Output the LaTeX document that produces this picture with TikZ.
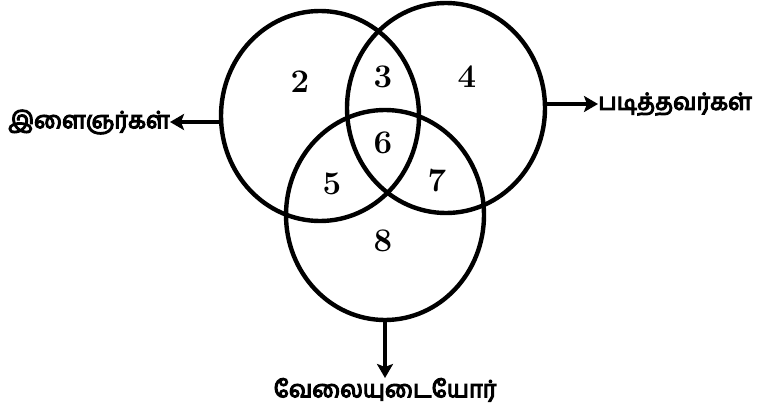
\documentclass[tikz,border=0pt]{standalone}
\usepackage{fontspec}
\newfontfamily\tamil[Script=Tamil,FakeBold=5]{Hind Madurai}
\usepackage{tikz}
\usetikzlibrary{arrows.meta,positioning,shapes.geometric}

\begin{document}
\begin{tikzpicture}[
  x=1pt, y=-1pt,
  every node/.style={inner sep=0pt},
  setring/.style ={ellipse, draw=black, line width=4.4pt, minimum width=198, minimum height=210},
  region/.style  ={font=\fontsize{33}{36}\selectfont\bfseries},
  setname/.style ={font=\tamil\fontsize{23.5}{28}\selectfont},
  ar/.style      ={-{Stealth[length=14pt,width=16pt,inset=3pt]}, line width=3.4pt}]

\useasboundingbox (0,0) rectangle (763,415);

% ----------------------------- the three sets ---------------------------
\node[setring] (young)    at (320,116) {};
\node[setring] (skilled)  at (446,108) {};
\node[setring] (employed) at (385,215) {};

% ----------------------------- regions ----------------------------------
\node[region] (r2) at (300,82)  {2};
\node[region] (r3) at (383,77)  {3};
\node[region] (r4) at (467,77)  {4};
\node[region] (r6) at (383,143) {6};
\node[region] (r5) at (332,184) {5};
\node[region] (r7) at (437,181) {7};
\node[region] (r8) at (383,241) {8};

% ----------------------------- names ------------------------------------
\node[setname, anchor=east]  (youngl)    at (170,122) {இளைஞர்கள்};
\node[setname, anchor=west]  (skilledl)  at (598,104) {படித்தவர்கள்};
\node[setname, anchor=north] (employedl) at (385,378) {வேலையுடையோர்};

\draw[ar] (young.west |- youngl)      -- (youngl.east);
\draw[ar] (skilled.east |- skilledl)  -- (skilledl.west);
\draw[ar] (employed.south)            -- (employedl.north);

\end{tikzpicture}
\end{document}
